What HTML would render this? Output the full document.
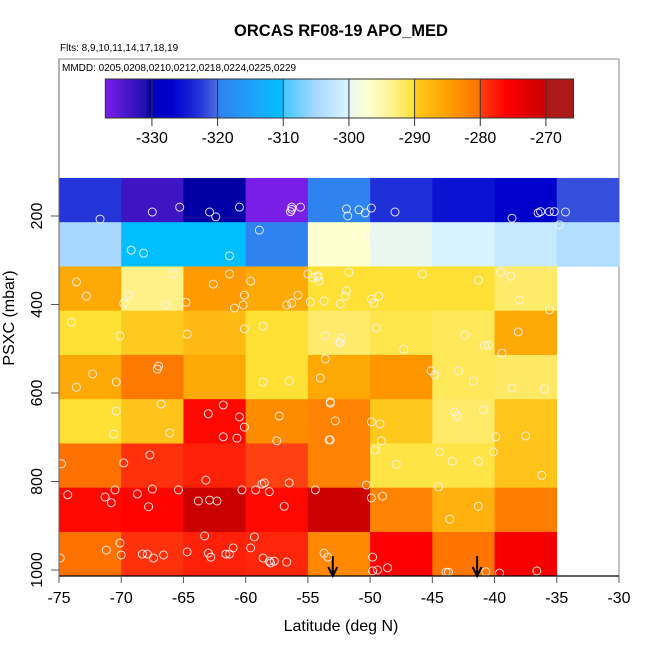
<!DOCTYPE html>
<html><head><meta charset="utf-8"><style>
html,body{margin:0;padding:0;background:#fff;}
svg{display:block;font-family:"Liberation Sans",sans-serif;}
</style></head><body>
<svg id="chart" width="650" height="650" viewBox="0 0 650 650">
<defs>
<linearGradient id="cbgrad" x1="0" x2="1" y1="0" y2="0"></linearGradient>
</defs>
<text x="341" y="36" text-anchor="middle" font-size="16.5" font-weight="bold">ORCAS RF08-19 APO_MED</text>
<text x="60" y="51" font-size="10">Flts: 8,9,10,11,14,17,18,19</text>
<rect x="59" y="59" width="560" height="517" fill="none" stroke="#888" stroke-width="1"/>
<text x="62" y="71" font-size="10">MMDD: 0205,0208,0210,0212,0218,0224,0225,0229</text>
<g id="cells"></g>
<g id="points"></g>
<g id="arrows"></g>
<g id="axes"></g>
<g id="colorbar"></g>
<text x="341" y="631" text-anchor="middle" font-size="16">Latitude (deg N)</text>
<text transform="translate(14,318) rotate(-90)" text-anchor="middle" font-size="16">PSXC (mbar)</text>
</svg>
<script>
const latEdges = [-75,-70,-65,-60,-55,-50,-45,-40,-35,-30];
const presEdges = [114,214,314,414,514,614,714,814,914,1013];
const cellValues = [
 [-322.8,-333,-330.1,-337,-319.5,-323,-325.5,-327,-321.5],
 [-305,-310.2,-310.2,-319.5,-297,-300,-300.2,-302,-304],
 [-286,-293,-284.5,-286,-290.3,-290.3,-290.3,-292,null],
 [-290.3,-289.8,-288,-290.3,-292,-291,-291.5,-286,null],
 [-286,-281,-286,-290.3,-286,-284,-291.5,-291.8,null],
 [-290.3,-289,-276.5,-283,-282,-289.5,-292,-289.2,null],
 [-280.2,-279,-278,-280,-282,-290.8,-290.8,-289,null],
 [-276.5,-276.2,-270.3,-276.5,-270.5,-282,-287,-281.5,null],
 [-280.3,-279,-278,-278.3,-282.5,-276,-280.6,-275,null]
];
const xTicks = [-75,-70,-65,-60,-55,-50,-45,-40,-35,-30];
const yTicks = [200,400,600,800,1000];
const cbTicks = [-330,-320,-310,-300,-290,-280,-270];
const cbRange = [-337.1,-265.8];
const arrowLats = [-53.0,-41.4];
const pointLat = [-71.7,-67.5,-65.3,-62.9,-62.4,-60.5,-56.3,-56.3,-56.4,-55.6,-51.9,-51.8,-50.9,-50.4,-49.9,-48,-38.6,-36.5,-36.3,-35.6,-35.2,-34.3,-34.8,
-69.2,-68.2,-61.3,-58.9,-54.2,-46.8,-50,
-73.6,-72.8,-69.4,-69.8,-66.4,-65.8,-64.8,-62.6,-61.3,-60.1,-60.2,-60.9,-59.6,-56.7,-56.3,-55.8,-74,-70.1,-64.7,-60.1,-58.6,-72.3,-73.6,-70.4,-67.1,-67,-58.6,-56.5,-66.8,-61.8,
-55,-54.6,-54.2,-54.1,-51.7,-51.9,-52,-53.7,-54.8,-52.4,-49.9,-49.7,-49.3,-45.8,-41.3,-39.5,-38.7,-38,-35.6,-53.6,-52.3,-52.5,-52.4,-49.5,-47.3,-42.4,-40.8,-40.5,-38.1,-39.4,-53.6,-54,-45.1,-44.8,-42.9,-41.7,-38.6,-36,-53.2,
-70.4,-70.6,-66.1,-63,-61.8,-60.5,-60.7,-60.1,-57.3,-57.5,-53.3,-74.8,-69.8,-67.7,-63.2,-58.7,-58.5,-56.5,-74.3,-71.3,-70.8,-70.5,-68.7,-67.5,-67.8,-65.4,-63.8,-62.9,-62.3,-60.3,-59.2,-58.1,-56.9,-54.4,
-74.9,-71.2,-70.1,-70,-68.3,-67.9,-67.4,-66.6,-64.7,-63.3,-63,-62.8,-61.6,-61.3,-61.0,-59.6,-59.3,-58.6,-58.1,-58.0,-57.7,-56.7,-53.7,-53.4,
-53.2,-52.8,-53.2,-49.9,-49.2,-49.1,-49.6,-47.9,-43.2,-43,-40.9,-39.9,-37.5,-44.4,-43.4,-41.3,-40.1,-36.2,-44.5,-50.3,-49.9,-49,-41.3,-43.6,-49.8,-49.8,-49.4,-48.6,-43.9,-43.7,-40.7,-39.6,-36.6];
const pointPres = [207,191,180,191,202,180,185,180,190,180,184,200,186,193,182,191,205,193,190,190,190,191,220,
277,284,290,232,338,236,247,
349,381,379,397,401,331,395,354,331,379,401,408,347,401,397,379,440,471,467,455,449,557,587,575,546,539,575,573,625,627,
331,339,335,347,327,369,381,392,394,399,388,397,381,331,345,327,336,390,412,471,476,485,487,453,501,469,492,492,462,510,523,566,550,559,550,573,589,591,620,
641,693,690,647,699,654,702,677,652,708,706,760,758,740,797,806,803,803,830,835,848,819,828,817,857,819,844,842,844,819,819,823,856,819,
973,955,939,966,964,964,973,966,959,923,962,971,964,964,950,950,925,973,980,984,980,982,962,971,
623,663,706,665,670,708,729,761,643,652,638,699,697,733,754,754,733,786,812,808,837,833,856,885,971,1002,1000,995,1005,1005,1004,1007,1002];

const NS='http://www.w3.org/2000/svg';
const X0=59, X1=619, Y200=216, PPM=0.4425;
function xs(lat){return X0+(lat-(-75))*(X1-X0)/45;}
function ys(p){return Y200+(p-200)*PPM;}
const cbX0=105.3, cbX1=573.5;
function cbx(v){return cbX0+(v-cbRange[0])*(cbX1-cbX0)/(cbRange[1]-cbRange[0]);}
const stops=[[-337.1,'#7a1ee8'],[-331,'#2010b0'],[-330.2,'#00008b'],[-330,'#0000c0'],[-327,'#0000cd'],[-323,'#2030d8'],[-320.1,'#4a6ae0'],[-320,'#2f80f0'],[-315,'#20a0f8'],[-310.1,'#00c0ff'],[-310,'#40c8ff'],[-305,'#a8d8ff'],[-300.1,'#d8f4ff'],[-300,'#e8f8f0'],[-297,'#ffffd0'],[-293,'#fff088'],[-290.1,'#ffe030'],[-290,'#ffcc20'],[-285,'#ffa000'],[-280.1,'#ff7000'],[-280,'#ff4010'],[-276,'#ff0000'],[-270.1,'#c80000'],[-270,'#b01818'],[-265.8,'#a81a1a']];
function hex2(c){return [1,3,5].map(i=>parseInt(c.substr(i,2),16));}
function colorOf(v){
  if(v<=stops[0][0])return stops[0][1];
  for(let i=1;i<stops.length;i++){
    if(v<=stops[i][0]){
      const a=stops[i-1],b=stops[i],t=(v-a[0])/(b[0]-a[0]);
      const ca=hex2(a[1]),cb=hex2(b[1]);
      return 'rgb('+ca.map((c,k)=>Math.round(c+(cb[k]-c)*t)).join(',')+')';
    }
  }
  return stops[stops.length-1][1];
}
function mk(tag,attrs,parent){const e=document.createElementNS(NS,tag);for(const k in attrs)e.setAttribute(k,attrs[k]);parent.appendChild(e);return e;}

const gc=document.getElementById('cells');
for(let r=0;r<cellValues.length;r++){
  for(let c=0;c<cellValues[r].length;c++){
    const v=cellValues[r][c]; if(v===null)continue;
    const x=xs(latEdges[c]), x2=xs(latEdges[c+1]), y=ys(presEdges[r]), y2=ys(presEdges[r+1]);
    const e=mk('rect',{x:x,y:y,width:x2-x+0.3,height:y2-y+0.3,fill:colorOf(v)},gc);
    
    
  }
}
const gp=document.getElementById('points');
for(let i=0;i<pointLat.length;i++){
  const e=mk('circle',{cx:xs(pointLat[i]),cy:ys(pointPres[i]),r:4,fill:'none',stroke:'#f4f4f4','stroke-opacity':0.9,'stroke-width':1},gp);
  
  
}
const ga=document.getElementById('arrows');
arrowLats.forEach(l=>{
  const x=xs(l);
  const e=mk('path',{d:`M${x},556 L${x},575 M${x-4.5},567 L${x},576 L${x+4.5},567`,stroke:'#000','stroke-width':2,fill:'none'},ga);
  
  
});
const gx=document.getElementById('axes');
let ax=mk('line',{x1:X0,y1:576,x2:X1,y2:576,stroke:'#000','stroke-width':1.2},gx);


let ay=mk('line',{x1:X0,y1:59,x2:X0,y2:576,stroke:'#666','stroke-width':1},gx);


xTicks.forEach(t=>{
  const x=xs(t);
  const l=mk('line',{x1:x,y1:576,x2:x,y2:583,stroke:'#555'},gx);
  
  
  const tx=mk('text',{x:x,y:603,'text-anchor':'middle','font-size':16},gx);
  tx.textContent=String(t);
  
  
});
yTicks.forEach(t=>{
  const y=ys(t);
  const l=mk('line',{x1:51,y1:y,x2:X0,y2:y,stroke:'#555'},gx);
  
  
  const tx=mk('text',{transform:`translate(42,${y}) rotate(-90)`,'text-anchor':'middle','font-size':16},gx);
  tx.textContent=String(t);
  
  
});
const grad=document.getElementById('cbgrad');
stops.forEach(s=>{
  mk('stop',{offset:((s[0]-cbRange[0])/(cbRange[1]-cbRange[0])).toFixed(4),'stop-color':s[1]},grad);
});
const gcb=document.getElementById('colorbar');
let cr=mk('rect',{x:cbX0,y:79,width:cbX1-cbX0,height:39,fill:'url(#cbgrad)',stroke:'#333','stroke-width':1},gcb);


cbTicks.forEach(t=>{
  const x=cbx(t);
  const l=mk('line',{x1:x,y1:79,x2:x,y2:126,stroke:'#333','stroke-width':1},gcb);
  
  
  const tx=mk('text',{x:x,y:143,'text-anchor':'middle','font-size':16},gcb);
  tx.textContent=String(t);
  
  
});
</script>
</body></html>
